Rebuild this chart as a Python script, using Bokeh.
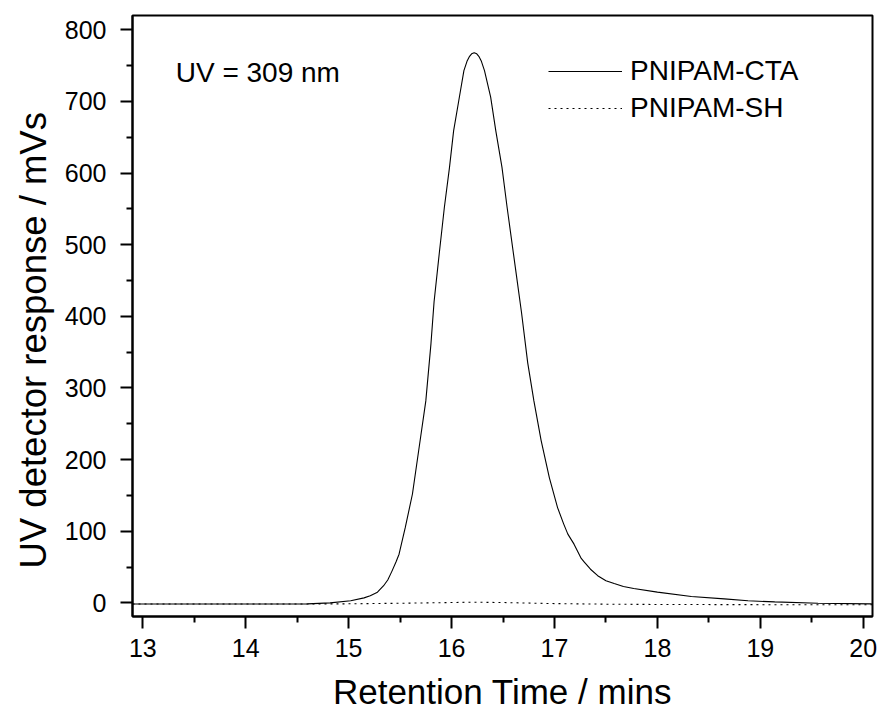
from bokeh.plotting import figure
from bokeh.models import FixedTicker, Legend, LegendItem, Label, Range1d, Title
from bokeh.embed import file_html
from bokeh.resources import INLINE

# Retention time (mins) and UV response (mVs) for PNIPAM-CTA
cta_time = [12.9, 13.5, 14.0, 14.3, 14.6, 14.82, 15.02, 15.15, 15.21, 15.28, 15.34,
            15.38, 15.42, 15.46, 15.49, 15.55, 15.62, 15.68, 15.75, 15.80, 15.83,
            15.88, 15.93, 15.98, 16.02, 16.07, 16.12, 16.15, 16.175, 16.195, 16.22,
            16.245, 16.265, 16.29, 16.32, 16.38, 16.43, 16.49, 16.54, 16.62, 16.68,
            16.74, 16.80, 16.87, 16.95, 17.03, 17.09, 17.13, 17.19, 17.26, 17.29,
            17.35, 17.42, 17.50, 17.58, 17.67, 17.77, 18.0, 18.33, 18.65, 18.88,
            19.14, 19.56, 20.07, 20.1]
cta_resp = [-1.5, -1.5, -1.5, -1.5, -1.4, 0.0, 3.0, 7.0, 10.0, 15.0, 24.0,
            32.0, 44.0, 57.0, 68.0, 105.0, 152.0, 212.0, 282.0, 362.0, 420.0,
            487.0, 552.0, 608.0, 659.0, 701.0, 743.0, 756.0, 763.0, 766.5, 768.0,
            766.5, 763.0, 756.0, 743.0, 706.0, 659.0, 608.0, 552.0, 468.0, 405.0,
            335.0, 282.0, 227.0, 175.0, 133.0, 110.0, 96.0, 82.0, 62.0, 57.0,
            47.0, 38.0, 31.0, 27.0, 23.0, 20.0, 15.0, 9.0, 5.6, 3.0,
            1.4, -0.6, -1.4, -1.5]

# PNIPAM-SH
sh_time = [12.9, 14.5, 15.0, 15.5, 16.0, 16.2, 16.5, 17.0, 17.5, 18.0, 19.0, 20.1]
sh_resp = [-1.5, -1.5, -1.3, -0.5, 0.5, 1.0, 0.5, -1.0, -1.8, -2.2, -2.5, -2.5]

x_ticks = [13, 14, 15, 16, 17, 18, 19, 20]
x_minor = [13.5, 14.5, 15.5, 16.5, 17.5, 18.5, 19.5]
y_ticks = [0, 100, 200, 300, 400, 500, 600, 700, 800]
y_minor = [50, 150, 250, 350, 450, 550, 650, 750]

FONT = "Liberation Sans"

p = figure(width=878, height=717, output_backend="svg", toolbar_location=None,
           x_range=Range1d(12.9, 20.09), y_range=Range1d(-19, 820),
           min_border_left=132, min_border_right=6, min_border_top=15,
           min_border_bottom=101)

p.xgrid.visible = False
p.ygrid.visible = False
p.outline_line_color = "black"
p.outline_line_width = 2
p.background_fill_color = "white"
p.border_fill_color = "white"

r1 = p.line(cta_time, cta_resp, line_color="black", line_width=1.1)
r2 = p.line(sh_time, sh_resp, line_color="black", line_width=1.1, line_dash="2 4")

p.xaxis.ticker = FixedTicker(ticks=x_ticks, minor_ticks=x_minor)
p.yaxis.ticker = FixedTicker(ticks=y_ticks, minor_ticks=y_minor)

for ax in (p.xaxis, p.yaxis):
    ax.axis_line_width = 2
    ax.axis_line_color = "black"
    ax.major_tick_line_width = 2
    ax.minor_tick_line_width = 2
    ax.major_tick_in = 0
    ax.major_tick_out = 12
    ax.minor_tick_in = 0
    ax.minor_tick_out = 6
    ax.major_label_text_font = FONT
    ax.major_label_text_font_size = "25px"
    ax.major_label_text_color = "black"
    ax.axis_label_text_font = FONT
    ax.axis_label_text_font_size = "35px"
    ax.axis_label_text_font_style = "normal"
    ax.axis_label_text_color = "black"

p.xaxis.axis_label = "Retention Time / mins"
p.xaxis.major_label_standoff = 10
p.yaxis.major_label_standoff = 14
p.xaxis.axis_label_standoff = 12

ytitle = Title(text="UV detector response / mVs", align="left", offset=48,
               text_font=FONT, text_font_size="36.5px", text_font_style="normal",
               text_color="black", standoff=15)
p.add_layout(ytitle, "left")

legend = Legend(items=[LegendItem(label="PNIPAM-CTA", renderers=[r1]),
                       LegendItem(label="PNIPAM-SH", renderers=[r2])],
                location=(416, 492))
legend.label_text_font = FONT
legend.label_text_font_size = "28px"
legend.label_text_color = "black"
legend.glyph_width = 74
legend.glyph_height = 30
legend.label_height = 30
legend.label_standoff = 8
legend.spacing = 5
legend.padding = 0
legend.margin = 0
legend.border_line_alpha = 0
legend.background_fill_alpha = 0
p.add_layout(legend)

p.add_layout(Label(x=13.32, y=740, text="UV = 309 nm", text_font=FONT,
                   text_font_size="28px", text_color="black",
                   text_baseline="middle", text_align="left"))

open("out.html", "w").write(file_html(p, INLINE))
